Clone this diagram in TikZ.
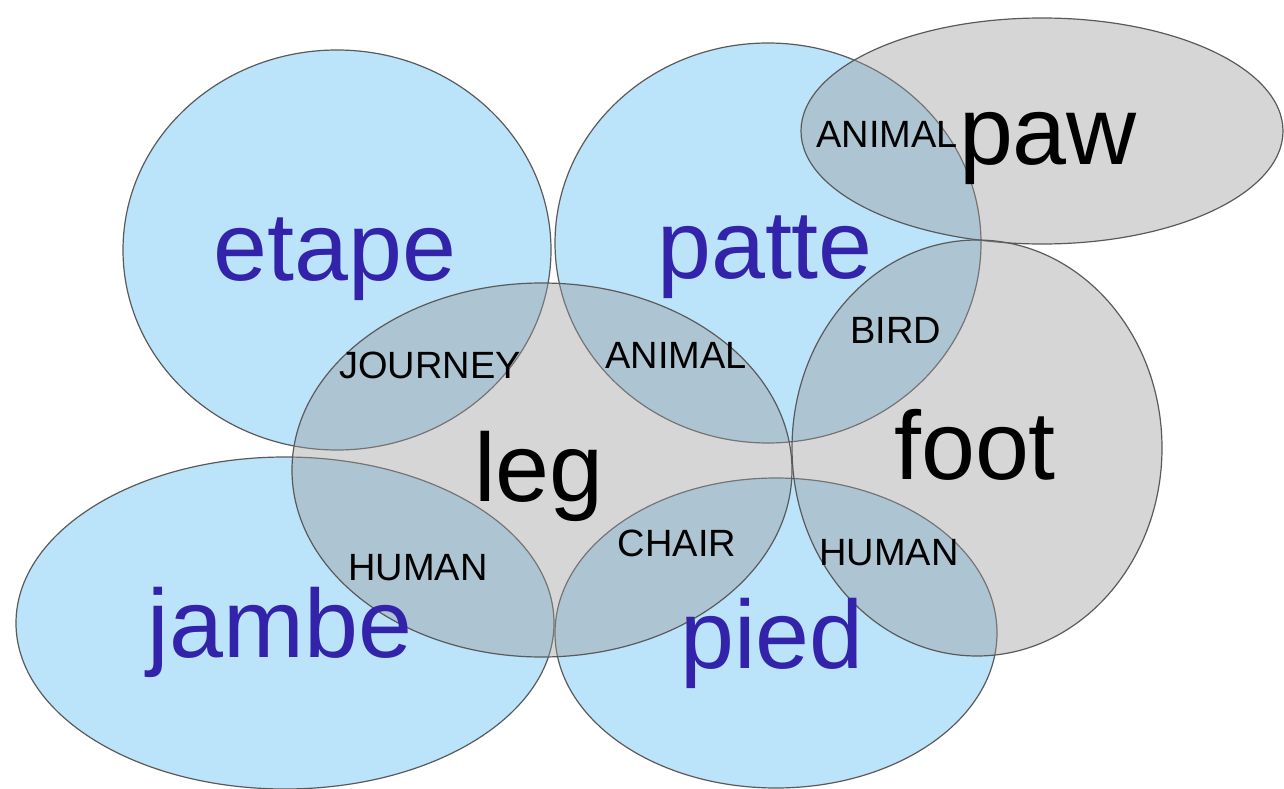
\documentclass[tikz,border=0pt]{standalone}
\usepackage{fontspec}
\setmainfont{Liberation Sans}
\definecolor{frblue}{HTML}{BBE3FA}
\definecolor{engray}{RGB}{155,155,155}
\definecolor{wordblue}{HTML}{3322AA}
\definecolor{rim}{HTML}{5A5A5A}

\begin{document}
\begin{tikzpicture}[x=1pt,y=-1pt,
  french/.style={fill=frblue,draw=rim,line width=1.2pt},
  english/.style={fill=engray,fill opacity=0.41,draw=rim,line width=1.2pt},
  bigword/.style={font=\fontsize{97}{100}\selectfont,anchor=base,inner sep=0pt},
  sense/.style={font=\fontsize{38}{40}\selectfont,anchor=base,inner sep=0pt}]
\useasboundingbox (0,0) rectangle (1284,789);

\coordinate (etape) at (337,250);
\coordinate (patte) at (768,243);
\coordinate (jambe) at (285,623);
\coordinate (pied) at (776,633);
\coordinate (paw) at (1042,131);
\coordinate (foot) at (977,448);
\coordinate (leg) at (542,470);

\foreach \name/\rx/\ry in {etape/214/200,patte/213/200,jambe/269/166,pied/221/155}
\draw[french] (\name) ellipse [x radius=\rx pt, y radius=\ry pt];

\foreach \name/\rx/\ry in {paw/241/113,foot/185/208,leg/250/187}
\draw[english] (\name) ellipse [x radius=\rx pt, y radius=\ry pt];

\node[bigword,text=wordblue] (etapeword) at (335,280) {etape};
\node[bigword,text=wordblue] (patteword) at (765,278) {patte};
\node[bigword,text=wordblue] (jambeword) at (280,657) {jambe};
\node[bigword,text=wordblue] (piedword) at (772,668) {pied};
\node[bigword] (pawword) at (1048,164) {paw};
\node[bigword] (footword) at (975,479) {foot};
\node[bigword] (legword) at (539,501) {leg};

\node[sense] (journey) at (430,378) {JOURNEY};
\node[sense] (animalleg) at (676,368) {ANIMAL};
\node[sense] (animalpaw) at (887,147) {ANIMAL};
\node[sense] (bird) at (896,343) {BIRD};
\node[sense] (humanleg) at (418,580) {HUMAN};
\node[sense] (chair) at (677,556) {CHAIR};
\node[sense] (humanfoot) at (889,565) {HUMAN};
\end{tikzpicture}
\end{document}
